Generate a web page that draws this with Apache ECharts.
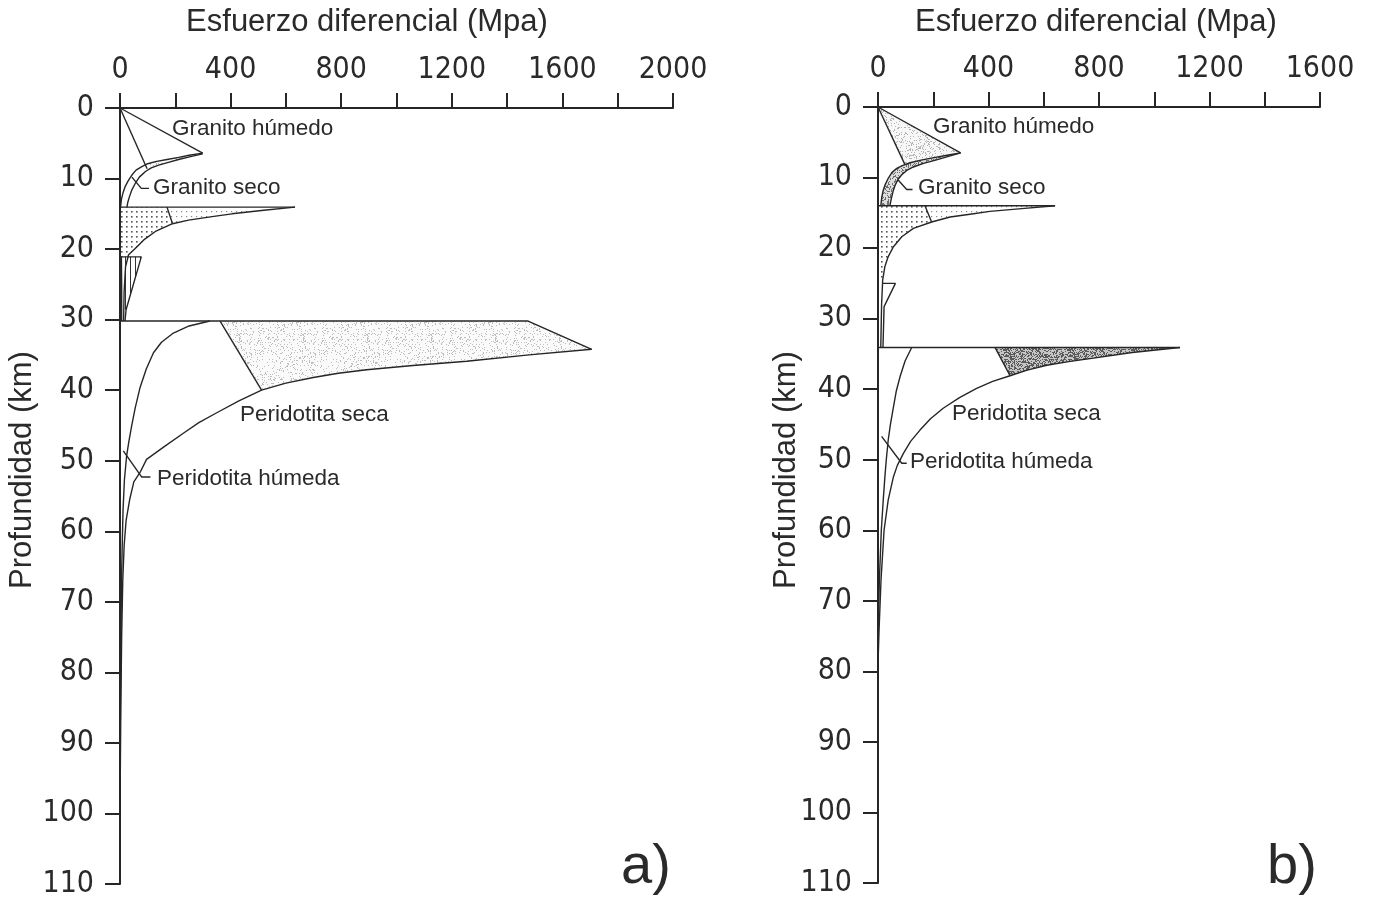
<!DOCTYPE html>
<html><head><meta charset="utf-8">
<script src="https://cdn.jsdelivr.net/npm/echarts@6/dist/echarts.min.js"></script>
<style>html,body{margin:0;padding:0;background:#fff}#c{width:1376px;height:899px}</style>
</head><body><div id="c"></div>
<script>
// ---------------- DATA (MPa, depth km) ----------------
const xTickLabelsA = [0, 400, 800, 1200, 1600, 2000];
const xTickLabelsB = [0, 400, 800, 1200, 1600];
const yTickLabels = [0, 10, 20, 30, 40, 50, 60, 70, 80, 90, 100, 110];

// Panel a) – granite
const aGranBrittle = [[0, 0], [299, 6.4]];
const aGranSteep = [[0, 0], [98, 8.6]];
const aGranLeft = [[299, 6.4], [250, 6.7], [212, 7.0], [170, 7.3], [128, 7.6], [100, 7.9], [79, 8.3], [58, 8.8], [43, 9.5], [30, 10.3], [19, 11.1], [11, 12.0], [5, 13.0], [2, 14.05]];
const aGranRight = [[299, 6.5], [255, 6.9], [212, 7.3], [175, 7.7], [140, 8.1], [113, 8.5], [92, 9.0], [70, 9.8], [55, 10.7], [43, 11.6], [34, 12.6], [28, 13.4], [25, 14.05]];
const aGranTop = [[0, 14.05], [633, 14.05]];
const aGranLower = [[633, 14.05], [520, 14.5], [405, 15.0], [333, 15.4], [248, 15.9], [190, 16.4], [128, 17.5], [86, 18.7], [55, 19.9], [31, 20.8], [20, 22.5], [15, 26], [13, 30.2]];
const aGranDiag = [[170, 14.05], [190, 16.4]];
const aSmallTri = [[0, 21.1], [77, 21.1], [22, 28.6], [18, 30.2]];
const aNearAxis = [[5, 21.1], [6, 25], [6, 30.2]];
// Panel a) – peridotite
const aPerTop = [[0, 30.2], [1476, 30.2], [1706, 34.2]];
const aPerSeca = [[1706, 34.2], [1480, 35.0], [1254, 35.9], [1060, 36.5], [892, 37.1], [790, 37.6], [699, 38.2], [600, 39.0], [512, 40.0], [430, 41.5], [350, 43.2], [285, 44.6], [229, 46.1], [160, 48.0], [96, 49.8], [72, 51.7], [50, 53], [35, 55.5], [22, 58.5], [15, 62], [10, 67], [6, 75], [3, 85], [1, 95], [0, 100]];
const aPerHumeda = [[325, 30.2], [250, 30.9], [193, 31.9], [150, 33.2], [121, 34.7], [95, 37], [72, 39.7], [55, 42.5], [42, 45.1], [32, 47.3], [24, 49.3], [16, 52.7], [11, 57], [8, 62], [5, 68], [3, 78], [1, 88], [0, 95]];
const aPerDiag = [[362, 30.2], [512, 40.0]];
const aLeaderGS = [[43, 9.8], [77, 11.4], [105, 11.4]];
const aLeaderPH = [[12, 48.6], [78, 52.3], [110, 52.3]];

// Panel b) – granite
const bGranBrittle = [[0, 0], [299, 6.5]];
const bGranSteep = [[0, 0], [98, 8.2]];
const bGranLeft = [[299, 6.5], [255, 6.8], [212, 7.1], [160, 7.5], [116, 7.9], [88, 8.3], [68, 8.7], [50, 9.3], [37, 10.1], [26, 11.0], [19, 11.8], [14, 12.7], [11, 13.7], [10, 14.0]];
const bGranRight = [[299, 6.5], [255, 7.0], [212, 7.5], [165, 8.0], [128, 8.5], [104, 9.0], [86, 9.6], [72, 10.3], [62, 11.1], [55, 11.9], [50, 12.7], [46, 13.4], [43, 14.0]];
const bGranTop = [[0, 14.0], [641, 14.0]];
const bGranLower = [[641, 14.0], [520, 14.4], [405, 14.8], [333, 15.2], [261, 15.6], [194, 16.3], [128, 17.2], [86, 18.4], [56, 19.8], [37, 21.2], [25, 22.6], [17, 24.5], [13, 28], [10, 34.1]];
const bGranDiag = [[170, 14.0], [194, 16.3]];
const bSmallTri = [[17, 25.0], [63, 25.0], [22, 28.3], [18, 34.1]];
// Panel b) – peridotite
const bPerTop = [[0, 34.1], [1093, 34.1]];
const bPerSeca = [[1093, 34.1], [920, 34.8], [780, 35.6], [690, 36.1], [611, 36.6], [540, 37.3], [478, 38.1], [415, 38.9], [357, 39.9], [295, 41.2], [236, 42.7], [190, 44.2], [152, 45.8], [118, 47.4], [92, 49.1], [70, 50.8], [56, 52.4], [37, 55.7], [22, 60], [11, 67], [4, 74], [0, 79]];
const bPerHumeda = [[122, 34.1], [98, 36], [80, 38.2], [66, 40.3], [56, 42.5], [45, 45], [37, 47.2], [30, 50], [25, 52.4], [19, 55.7], [12, 60], [5, 67], [1, 74], [0, 78]];
const bPerDiag = [[424, 34.1], [478, 38.1]];
const bLeaderGS = [[72, 10.3], [104, 11.7], [125, 11.7]];
const bLeaderPH = [[13, 46.7], [86, 50.5], [104, 50.5]];

// ---------------- patterns ----------------
function dotPattern(step, dot, color) {
  const c = document.createElement('canvas'); c.width = step; c.height = step;
  const g = c.getContext('2d'); g.fillStyle = color; g.fillRect(1, 1, dot, dot);
  return { image: c, repeat: 'repeat' };
}
function hash(i, j, s) {
  let h = Math.imul(i + 1, 374761393) + Math.imul(j + 7, 668265263) + Math.imul(s, 2246822519);
  h = Math.imul(h ^ (h >>> 13), 1274126177);
  h = h ^ (h >>> 16);
  return (h >>> 0) / 4294967296;
}
function speckle(color, bg, density, seed) {
  const n = 64, c = document.createElement('canvas'); c.width = n; c.height = n;
  const g = c.getContext('2d');
  if (bg) { g.fillStyle = bg; g.fillRect(0, 0, n, n); }
  g.fillStyle = color;
  for (let i = 0; i < n; i++) for (let j = 0; j < n; j++) if (hash(i, j, seed) < density) g.fillRect(i, j, 1, 1);
  return { image: c, repeat: 'repeat' };
}
function hatch(color) {
  const c = document.createElement('canvas'); c.width = 5; c.height = 5;
  const g = c.getContext('2d'); g.fillStyle = color; g.fillRect(0, 0, 1, 5);
  return { image: c, repeat: 'repeat' };
}
const pCoarse = dotPattern(5, 1.6, '#555');
const pFine = dotPattern(5, 1.2, '#8a8a8a');
const pLight = speckle('#b4b4b4', '#f7f7f7', 0.18, 3);
const pVeryLight = speckle('#bdbdbd', '#fafafa', 0.12, 11);
const pMid = speckle('#6e6e6e', '#dcdcdc', 0.35, 5);
const pDark = speckle('#5a5a5a', '#c6c6c6', 0.45, 9);
const pHatch = hatch('#333');

const rev = a => a.slice().reverse();
const polysA = [
  { pts: [...aGranLeft.slice(0, 6), ...rev(aGranRight.slice(0, 6))], fill: pLight },
  { pts: [[0, 14.05], [170, 14.05], [190, 16.4], ...aGranLower.slice(6, 10), [20, 21.1], [0, 21.1]], fill: pCoarse },
  { pts: [[170, 14.05], ...aGranLower.slice(0, 6)], fill: pFine },
  { pts: [[2, 21.1], [77, 21.1], [22, 28.6], [4, 28.6]], fill: pHatch },
  { pts: [[362, 30.2], [1476, 30.2], ...aPerSeca.slice(0, 9)], fill: pVeryLight }
];
const polysB = [
  { pts: [[0, 0], ...bGranLeft.slice(0, 6), [98, 8.2]], fill: pLight },
  { pts: [...bGranLeft, ...rev(bGranRight)], fill: pMid },
  { pts: [[0, 14.0], [170, 14.0], [194, 16.3], ...bGranLower.slice(6, 12), [0, 24.5]], fill: pCoarse },
  { pts: [[170, 14.0], ...bGranLower.slice(0, 6)], fill: pFine },
  { pts: [[424, 34.1], ...bPerSeca.slice(0, 7)], fill: pDark }
];

// ---------------- chart ----------------
const INK = '#262626';
const tickFont = "'Liberation Sans Narrow', 'DejaVu Sans Condensed', 'Liberation Sans', sans-serif";
function lineSeries(g, data) {
  return { type: 'line', xAxisIndex: g, yAxisIndex: g, data, symbol: 'none', silent: true, z: 3,
    lineStyle: { color: INK, width: 1.4 }, animation: false };
}
function polySeries(g, polys) {
  return { type: 'custom', xAxisIndex: g, yAxisIndex: g, silent: true, z: 1, animation: false,
    data: polys.map((p, i) => [i, 0]),
    renderItem: (params, api) => {
      const p = polys[params.dataIndex];
      return { type: 'polygon', shape: { points: p.pts.map(pt => api.coord(pt)) }, style: { fill: p.fill, stroke: null } };
    } };
}
function xAxis(g, ticks) {
  return { gridIndex: g, type: 'value', position: 'top', min: 0, max: ticks[ticks.length - 1], interval: ticks[1] - ticks[0],
    axisLine: { lineStyle: { color: INK, width: 2 } },
    axisTick: { show: true, length: 15, lineStyle: { color: INK, width: 2 } },
    minorTick: { show: true, splitNumber: 2, length: 15, lineStyle: { color: INK, width: 2 } },
    splitLine: { show: false },
    axisLabel: { margin: 23, color: '#2a2a2a', fontSize: 30, fontFamily: tickFont, formatter: v => String(v) } };
}
function yAxis(g) {
  return { gridIndex: g, type: 'value', inverse: true, min: yTickLabels[0], max: yTickLabels[yTickLabels.length - 1], interval: yTickLabels[1] - yTickLabels[0],
    axisLine: { lineStyle: { color: INK, width: 2 } },
    axisTick: { show: true, length: 15, lineStyle: { color: INK, width: 2 } },
    splitLine: { show: false },
    axisLabel: { margin: 26, color: '#2a2a2a', fontSize: 30, fontFamily: tickFont, formatter: v => String(v) } };
}
const annFont = "22.5px 'Liberation Sans', Arial, sans-serif";
const titleFont = "31px 'Liberation Sans', Arial, sans-serif";
function txt(x, y, text, font) {
  return { type: 'text', x, y, silent: true, z: 10,
    style: { text, font, fill: '#2a2a2a', align: 'left', verticalAlign: 'middle', textAlign: 'left', textVerticalAlign: 'middle' } };
}
function ctxt(x, y, text, font, rot) {
  return { type: 'text', x, y, rotation: rot || 0, silent: true, z: 10,
    style: { text, font, fill: '#2a2a2a', align: 'center', verticalAlign: 'middle', textAlign: 'center', textVerticalAlign: 'middle' } };
}

const chart = echarts.init(document.getElementById('c'), null, { renderer: 'canvas' });
chart.setOption({
  animation: false,
  backgroundColor: '#fff',
  grid: [
    { left: 120, top: 108, width: 553, height: 777 },
    { left: 878, top: 107, width: 442, height: 776 }
  ],
  xAxis: [xAxis(0, xTickLabelsA), xAxis(1, xTickLabelsB)],
  yAxis: [yAxis(0), yAxis(1)],
  series: [
    polySeries(0, polysA), polySeries(1, polysB),
    ...[aGranBrittle, aGranSteep, aGranLeft, aGranRight, aGranTop, aGranLower, aGranDiag, aSmallTri, aNearAxis,
        aPerTop, aPerSeca, aPerHumeda, aPerDiag, aLeaderGS, aLeaderPH].map(d => lineSeries(0, d)),
    ...[bGranBrittle, bGranSteep, bGranLeft, bGranRight, bGranTop, bGranLower, bGranDiag, bSmallTri,
        bPerTop, bPerSeca, bPerHumeda, bPerDiag, bLeaderGS, bLeaderPH].map(d => lineSeries(1, d))
  ],
  graphic: [
    ctxt(367, 22, 'Esfuerzo diferencial (Mpa)', titleFont),
    ctxt(1096, 22, 'Esfuerzo diferencial (Mpa)', titleFont),
    ctxt(22, 470, 'Profundidad (km)', titleFont, Math.PI / 2),
    ctxt(786, 470, 'Profundidad (km)', titleFont, Math.PI / 2),
    txt(172, 129, 'Granito húmedo', annFont),
    txt(153, 188, 'Granito seco', annFont),
    txt(240, 415, 'Peridotita seca', annFont),
    txt(157, 479, 'Peridotita húmeda', annFont),
    txt(933, 127, 'Granito húmedo', annFont),
    txt(918, 188, 'Granito seco', annFont),
    txt(952, 414, 'Peridotita seca', annFont),
    txt(910, 462, 'Peridotita húmeda', annFont),
    txt(621, 868, 'a)', "56px 'Liberation Sans', Arial, sans-serif"),
    txt(1267, 868, 'b)', "56px 'Liberation Sans', Arial, sans-serif")
  ]
});
</script></body></html>
